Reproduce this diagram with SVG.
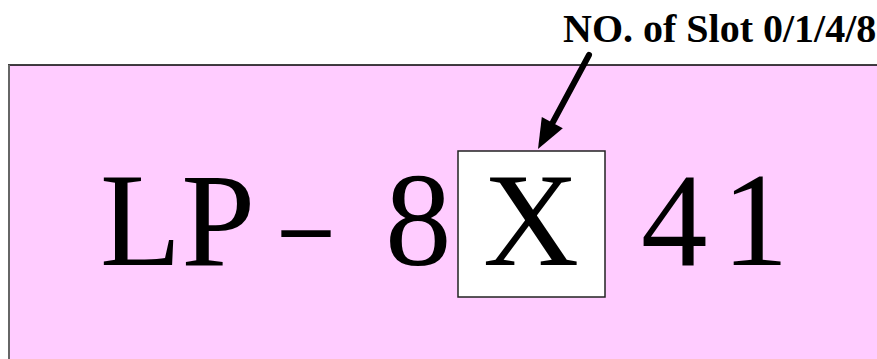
<svg xmlns="http://www.w3.org/2000/svg" width="877" height="359" viewBox="0 0 877 359">
<style>
.big{font-family:"Liberation Serif","Times New Roman",serif;font-size:133px;fill:#000}
.lbl{font-family:"Liberation Serif","Times New Roman",serif;font-size:40px;font-weight:bold;fill:#000}
</style>
<rect x="0" y="0" width="877" height="359" fill="#fff"/>
<g id="panel">
<rect x="8" y="65" width="875" height="300" fill="#FFCCFF"/>
<line x1="8" y1="65" x2="877" y2="65" stroke="#000" stroke-width="1.6"/>
<line x1="9" y1="65" x2="9" y2="359" stroke="#666" stroke-width="2"/>
</g>
<g id="code">
<text class="big" x="100" y="265">LP</text>
<text class="big" x="282" y="265" textLength="48" lengthAdjust="spacingAndGlyphs">–</text>
<text class="big" x="385" y="265">8</text>
<text class="big" x="641" y="265">4</text>
<text class="big" x="722" y="265">1</text>
</g>
<g id="slot">
<rect x="458" y="151" width="147" height="146" fill="#fff" stroke="#222" stroke-width="1.5"/>
<text class="big" x="483" y="265">X</text>
</g>
<g id="label">
<text class="lbl" x="563" y="42">NO. of Slot 0/1/4/8</text>
</g>
<g id="connectors">
<line x1="589" y1="55" x2="553" y2="122" stroke="#000" stroke-width="6" stroke-linecap="round"/>
<polygon points="538,149 541.8,116.9 562.8,128.3" fill="#000"/>
</g>
</svg>
